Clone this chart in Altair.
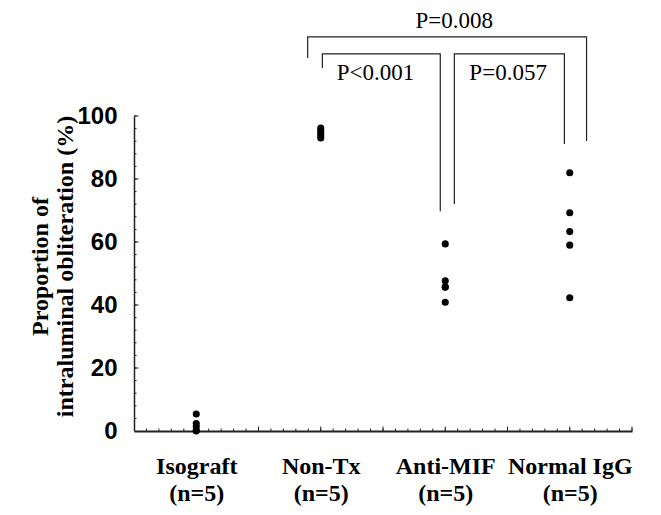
import altair as alt
import pandas as pd
import numpy as np

# ---------------- data ----------------
categories = ["Isograft", "Non-Tx", "Anti-MIF", "Normal IgG"]
group_sizes = ["(n=5)", "(n=5)", "(n=5)", "(n=5)"]
isograft = [5.4, 2.4, 1.4, 0.3, 0.0]
non_tx = [96.2, 95.4, 94.6, 93.8, 93.0]
anti_mif = [59.4, 47.7, 45.8, 45.6, 40.9]
normal_igg = [82.0, 69.3, 63.3, 59.0, 42.3]
y_tick_values = [0, 20, 40, 60, 80, 100]

# significance brackets (category units / percent units)
bracket_labels = ["P=0.008", "P<0.001", "P=0.057"]
bracket_x1 = [1.895, 2.013, 3.073]
bracket_x2 = [4.135, 2.960, 3.957]
bracket_top = [125.1, 119.7, 119.7]
bracket_left_end = [118.4, 115.2, 72.1]
bracket_right_end = [92.1, 69.8, 91.1]
label_x = [3.072, 2.440, 3.505]
label_y = [130.2, 113.6, 113.6]

# ---------------- tables ----------------
series = [isograft, non_tx, anti_mif, normal_igg]
pts = pd.DataFrame(
    [{"x": i + 1, "y": v, "group": categories[i]} for i, vals in enumerate(series) for v in vals]
)

lines = []
for b in range(len(bracket_labels)):
    seq = [
        (bracket_x1[b], bracket_left_end[b]),
        (bracket_x1[b], bracket_top[b]),
        (bracket_x2[b], bracket_top[b]),
        (bracket_x2[b], bracket_right_end[b]),
    ]
    for k, (xx, yy) in enumerate(seq):
        lines.append({"bid": b, "seq": k, "x": xx, "y": yy})
brackets = pd.DataFrame(lines)
blabels = pd.DataFrame({"x": label_x, "y": label_y, "t": bracket_labels})

x_minor = pd.DataFrame({"x": np.round(np.arange(0.6, 4.5001, 0.1), 2)})
x_major = pd.DataFrame({"x": np.round(np.arange(1.0, 4.5001, 0.5), 2)})
y_minor = pd.DataFrame({"y": np.arange(4, 101, 4)})
y_major = pd.DataFrame({"y": [20, 40, 60, 80, 100]})

W, H = 498, 315

label_map = " : ".join(
    f"datum.value == {i + 1} ? ['{c}', '{n}']" for i, (c, n) in enumerate(zip(categories, group_sizes))
) + " : ''"

xscale = alt.Scale(domain=[0.5, 4.5], nice=False, zero=False)
yscale = alt.Scale(domain=[0, 100], nice=False)

x_axis = alt.Axis(
    values=[1, 2, 3, 4], labelExpr=label_map, ticks=False, grid=False, title=None,
    labelFont="Liberation Serif", labelFontWeight="bold", labelFontSize=24,
    labelColor="black", labelPadding=23, labelLineHeight=27, labelAlign="center",
    labelFlush=False,
    domainColor="#222", domainWidth=2,
)
y_axis = alt.Axis(
    values=y_tick_values, ticks=False, grid=False,
    title=["Proportion of", "intraluminal obliteration (%)"],
    titleFont="Liberation Serif", titleFontWeight="bold", titleFontSize=24,
    titleColor="black", titleAngle=270, titleAlign="center", titleBaseline="alphabetic",
    titleX=-87, titleY=150, titleLineHeight=25,
    labelFont="Liberation Sans", labelFontWeight="bold", labelFontSize=24,
    labelColor="black", labelPadding=17, labelBaseline="middle",
    domainColor="#222", domainWidth=1.5,
)

X = alt.X("x:Q", scale=xscale, axis=x_axis)
Y = alt.Y("y:Q", scale=yscale, axis=y_axis)

points = alt.Chart(pts).mark_circle(size=50, color="black", opacity=1).encode(x=X, y=Y)

xminor = alt.Chart(x_minor).mark_rule(color="#222", strokeWidth=1).encode(
    x=X, y=alt.value(H), y2=alt.value(H - 2.5)
)
xmajor = alt.Chart(x_major).mark_rule(color="#222", strokeWidth=1).encode(
    x=X, y=alt.value(H), y2=alt.value(H - 4.5)
)
yminor = alt.Chart(y_minor).mark_rule(color="#222", strokeWidth=1).encode(
    y=Y, x=alt.value(0), x2=alt.value(2.5)
)
ymajor = alt.Chart(y_major).mark_rule(color="#222", strokeWidth=1).encode(
    y=Y, x=alt.value(0), x2=alt.value(4.5)
)

blines = alt.Chart(brackets).mark_line(color="#222", strokeWidth=1.2).encode(
    x=X, y=Y, detail="bid:N", order="seq:O"
)
btext = alt.Chart(blabels).mark_text(
    font="Liberation Serif", fontSize=23, color="black", baseline="middle", align="center"
).encode(x=X, y=Y, text="t:N")

chart = (
    alt.layer(xminor, xmajor, yminor, ymajor, blines, points, btext)
    .properties(
        width=W, height=H,
        autosize=alt.AutoSizeParams(type="none"),
        padding={"left": 126, "top": 108, "right": 20, "bottom": 76},
        background="white",
    )
    .configure_view(stroke=None)
)

chart.save("out.html", embed_options={"renderer": "svg", "actions": False})
